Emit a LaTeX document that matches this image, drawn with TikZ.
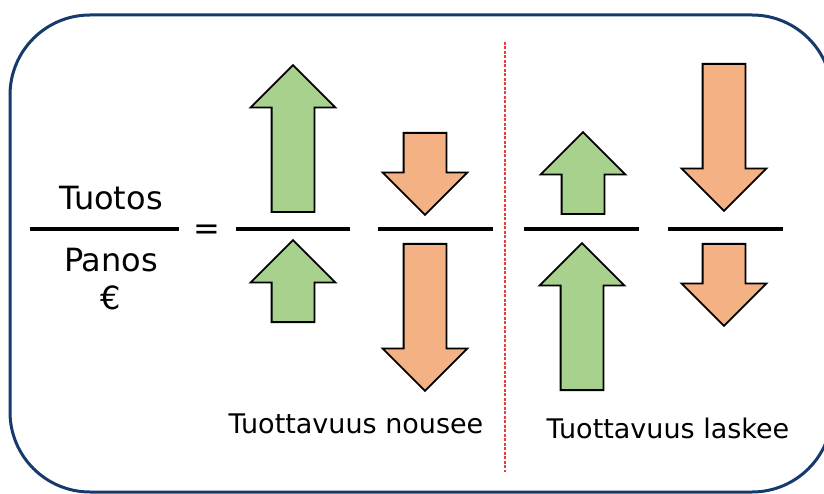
\documentclass[tikz,border=0pt]{standalone}
\usepackage{fontspec}
\setmainfont{DejaVu Sans}
\usetikzlibrary{shapes.arrows}
\definecolor{upgreen}{RGB}{169,209,142}
\definecolor{downorange}{RGB}{244,177,131}
\definecolor{frameblue}{RGB}{22,58,108}
\definecolor{splitred}{RGB}{235,60,60}
\tikzset{
  arr/.style   = {single arrow, draw=black, line width=1.8pt,
                  inner xsep=0pt, inner ysep=20.5pt, minimum width=83pt,
                  single arrow head extend=21pt, single arrow head indent=0pt},
  gain/.style  = {arr, fill=upgreen, rotate=90, anchor=tail},
  loss/.style  = {arr, fill=downorange, rotate=-90, anchor=tail},
  big/.style   = {minimum height=147pt},
  small/.style = {minimum height=82pt},
  bar/.style   = {line width=3.6pt},
  term/.style  = {font=\fontsize{32}{38}\selectfont, anchor=base, inner sep=0pt},
  verdict/.style = {font=\fontsize{27}{32}\selectfont, anchor=base, inner sep=0pt}
}

\begin{document}
\begin{tikzpicture}[x=1pt, y=1pt]
  \useasboundingbox (0,0) rectangle (824,493);
  \clip (0,0) rectangle (824,493);
  % frame
  \draw [frameblue, line width=3pt, rounded corners=80pt] (10,478) rectangle (832,1);
  % ratio
  \node [term] (tuotos) at (111,283) {Tuotos};
  \node [term] (panos)  at (111,221) {Panos};
  \node [term] (euro)   at (111,183) {€};
  \node [term] (equals) at (207,253) {=};
  \draw [bar] (30,264) -- (179,264);
  \draw [bar] (236,264) -- (350,264);
  \draw [bar] (378,264) -- (493,264);
  \draw [bar] (524,264) -- (639,264);
  \draw [bar] (668,264) -- (783,264);
  % productivity rises
  \node [gain, big]   (a1) at (293,280) {};
  \node [gain, small] (a2) at (293,170) {};
  \node [loss, small] (a3) at (425,361) {};
  \node [loss, big]   (a4) at (425,250) {};
  \node [verdict] (nousee) at (356,60) {Tuottavuus nousee};
  % divider
  \draw [splitred, line width=1.2pt, dash pattern=on 3pt off 1.5pt] (505,451) -- (505,21);
  % productivity falls
  \node [gain, small] (a5) at (583,278) {};
  \node [gain, big]   (a6) at (582,102) {};
  \node [loss, big]   (a7) at (724,430) {};
  \node [loss, small] (a8) at (724,250) {};
  \node [verdict] (laskee) at (668,55) {Tuottavuus laskee};
\end{tikzpicture}
\end{document}
